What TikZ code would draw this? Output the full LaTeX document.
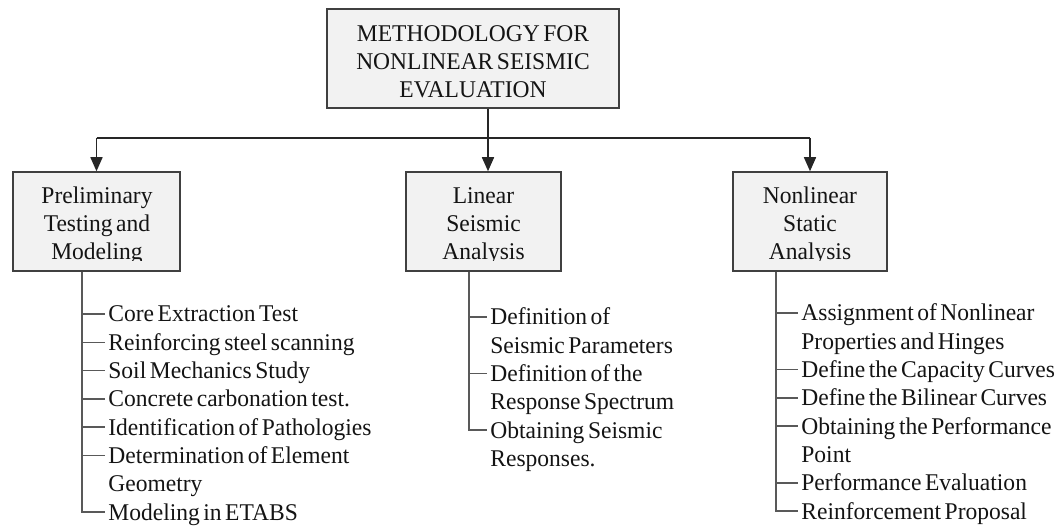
\documentclass[tikz,border=0pt]{standalone}
\usepackage{fontspec}
\setmainfont{Liberation Serif}[FakeStretch=0.98,WordSpace=0.6]
\usetikzlibrary{arrows.meta}
\definecolor{boxfill}{HTML}{F2F2F2}
\definecolor{boxline}{HTML}{404040}
\definecolor{lineclr}{HTML}{262626}
\definecolor{stemclr}{HTML}{595959}
\definecolor{txt}{HTML}{141414}
\begin{document}
\begin{tikzpicture}[x=0.5pt,y=-0.5pt,
  box/.style={draw=boxline, fill=boxfill, line width=0.75pt, inner sep=0pt, minimum height=49.5pt},
  ttl/.style={font=\fontsize{12}{14}\selectfont, anchor=base, inner sep=0pt, text=txt},
  item/.style={font=\fontsize{12}{14}\selectfont, anchor=west, inner ysep=0pt, inner xsep=1.5pt, text height=7.9pt, text depth=0pt, text=txt},
  conn/.style={draw=lineclr, line width=0.75pt},
  arr/.style={conn, -{Triangle[length=7pt,width=6pt]}},
  tick/.style={draw=stemclr, line width=0.75pt}]
\useasboundingbox (0,0) rectangle (1060,529);
% boxes
\node[box, minimum width=146pt] (top) at (473,58.5) {};
\node[box, minimum width=83.5pt] (pre) at (96.5,221.5) {};
\node[box, minimum width=77.5pt] (lin) at (483.5,221.5) {};
\node[box, minimum width=77pt] (non) at (810,221.5) {};
% top text
\node[ttl] (t1) at (473,42) {METHODOLOGY FOR};
\node[ttl] (t2) at (473,70) {NONLINEAR SEISMIC};
\node[ttl] (t3) at (473,98) {EVALUATION};
% box texts (clipped at the bottom like the original)
\begin{scope}
\clip (10,170) rectangle (890,261);
\node[ttl] (p1) at (97,204) {Preliminary};
\node[ttl] (p2) at (97,232) {Testing and};
\node[ttl] (p3) at (97,260) {Modeling};
\node[ttl] (l1) at (483.5,204) {Linear};
\node[ttl] (l2) at (483.5,232) {Seismic};
\node[ttl] (l3) at (483.5,260) {Analysis};
\node[ttl] (n1) at (810,204) {Nonlinear};
\node[ttl] (n2) at (810,232) {Static};
\node[ttl] (n3) at (810,260) {Analysis};
\end{scope}
% connectors from top
\coordinate (j) at (488,138);
\draw[conn] (top.south -| j) -- (j);
\draw[conn] (pre.north |- j) -- (non.north |- j);
\draw[arr] (pre.north |- j) -- (pre.north);
\draw[arr] (j) -- (j |- lin.north);
\draw[arr] (non.north |- j) -- (non.north);
% left list
\coordinate (ls) at (82,0);
\node[item] (a0) at (105,314) {Core Extraction Test};
\node[item] (a1) at (105,342.3) {Reinforcing steel scanning};
\node[item] (a2) at (105,370.6) {Soil Mechanics Study};
\node[item] (a3) at (105,398.9) {Concrete carbonation test.};
\node[item] (a4) at (105,427.2) {Identification of Pathologies};
\node[item] (a5) at (105,455.5) {Determination of Element};
\node[item] (a6) at (105,483.8) {Geometry};
\node[item] (a7) at (105,512.1) {Modeling in ETABS};
\draw[tick] (pre.south -| ls) -- (ls |- a7.west) -- (a7.west);
\foreach \k in {a0,a1,a2,a3,a4,a5} \draw[tick] (ls |- \k.west) -- (\k.west);
% linear list
\coordinate (ms) at (469,0);
\node[item] (b0) at (487,317) {Definition of};
\node[item] (b1) at (487,345.3) {Seismic Parameters};
\node[item] (b2) at (487,373.6) {Definition of the};
\node[item] (b3) at (487,401.9) {Response Spectrum};
\node[item] (b4) at (487,430.2) {Obtaining Seismic};
\node[item] (b5) at (487,458.5) {Responses.};
\draw[tick] (lin.south -| ms) -- (ms |- b4.west) -- (b4.west);
\foreach \k in {b0,b2} \draw[tick] (ms |- \k.west) -- (\k.west);
% nonlinear list
\coordinate (rs) at (776,0);
\node[item] (c0) at (798,313) {Assignment of Nonlinear};
\node[item] (c1) at (798,341.3) {Properties and Hinges};
\node[item] (c2) at (798,369.6) {Define the Capacity Curves};
\node[item] (c3) at (798,397.9) {Define the Bilinear Curves};
\node[item] (c4) at (798,426.2) {Obtaining the Performance};
\node[item] (c5) at (798,454.5) {Point};
\node[item] (c6) at (798,482.8) {Performance Evaluation};
\node[item] (c7) at (798,511.1) {Reinforcement Proposal};
\draw[tick] (non.south -| rs) -- (rs |- c7.west) -- (c7.west);
\foreach \k in {c0,c2,c3,c4,c6} \draw[tick] (rs |- \k.west) -- (\k.west);
\end{tikzpicture}
\end{document}
